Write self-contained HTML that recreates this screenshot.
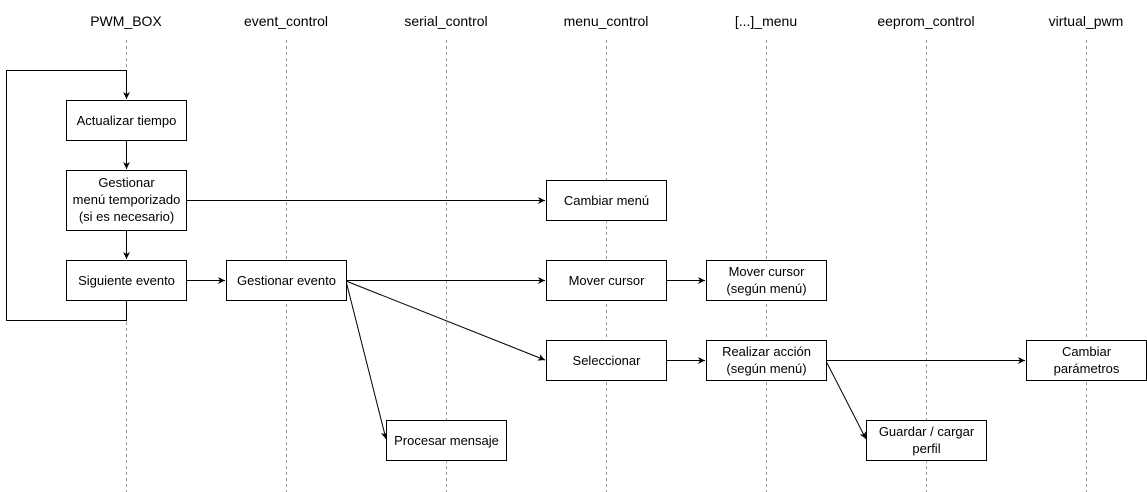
<!DOCTYPE html>
<html><head><meta charset="utf-8"><style>
html,body{margin:0;padding:0;background:#fff;}
svg{display:block;font-family:"Liberation Sans",sans-serif;}
</style></head><body>
<svg width="1147" height="492" viewBox="0 0 1147 492" xmlns="http://www.w3.org/2000/svg">
<defs><marker id="a" markerWidth="8" markerHeight="8" refX="7" refY="4" orient="auto" markerUnits="userSpaceOnUse"><path d="M0,0.5 L7,4 L0,7.5 L2,4 Z" fill="#000"/></marker></defs>
<g font-size="14" text-anchor="middle" fill="#000">
<text x="126" y="26">PWM_BOX</text><text x="286" y="26">event_control</text><text x="446" y="26">serial_control</text><text x="606" y="26">menu_control</text><text x="766" y="26">[...]_menu</text><text x="926" y="26">eeprom_control</text><text x="1086" y="26">virtual_pwm</text>
</g>
<g stroke="#999" stroke-dasharray="3,3" stroke-width="1">
<line x1="126.5" y1="40" x2="126.5" y2="492"/><line x1="286.5" y1="40" x2="286.5" y2="492"/><line x1="446.5" y1="40" x2="446.5" y2="492"/><line x1="606.5" y1="40" x2="606.5" y2="492"/><line x1="766.5" y1="40" x2="766.5" y2="492"/><line x1="926.5" y1="40" x2="926.5" y2="492"/><line x1="1086.5" y1="40" x2="1086.5" y2="492"/>
</g>
<g fill="none" stroke="#000" stroke-width="1">
<path d="M126.5,300 V320.5 H6.5 V70.5 H126.5 V99" marker-end="url(#a)"/>
<path d="M126.5,140 V169" marker-end="url(#a)"/>
<path d="M126.5,230 V259" marker-end="url(#a)"/>
<path d="M186,200.5 H545" marker-end="url(#a)"/>
<path d="M186,280.5 H225" marker-end="url(#a)"/>
<path d="M346,280.5 H545" marker-end="url(#a)"/>
<path d="M346,281 L545,360" marker-end="url(#a)"/>
<path d="M346,281 L386,439" marker-end="url(#a)"/>
<path d="M666,280.5 H705" marker-end="url(#a)"/>
<path d="M666,360.5 H705" marker-end="url(#a)"/>
<path d="M826,360.5 H1025" marker-end="url(#a)"/>
<path d="M826,361 L866,439" marker-end="url(#a)"/>
</g>
<g fill="#fff" stroke="#000" stroke-width="1">
<rect x="66.5" y="100.5" width="120" height="40"/>
<rect x="66.5" y="170.5" width="120" height="60"/>
<rect x="66.5" y="260.5" width="120" height="40"/>
<rect x="226.5" y="260.5" width="120" height="40"/>
<rect x="546.5" y="180.5" width="120" height="40"/>
<rect x="546.5" y="260.5" width="120" height="40"/>
<rect x="706.5" y="260.5" width="120" height="40"/>
<rect x="546.5" y="340.5" width="120" height="40"/>
<rect x="706.5" y="340.5" width="120" height="40"/>
<rect x="1026.5" y="340.5" width="120" height="40"/>
<rect x="386.5" y="420.5" width="120" height="40"/>
<rect x="866.5" y="420.5" width="120" height="40"/>
</g>
<g font-size="13" text-anchor="middle" fill="#000">
<text x="126.5" y="125">Actualizar tiempo</text>
<text x="126.5" y="187">Gestionar</text><text x="126.5" y="204">menú temporizado</text><text x="126.5" y="221">(si es necesario)</text>
<text x="126.5" y="285">Siguiente evento</text>
<text x="286.5" y="285">Gestionar evento</text>
<text x="606.5" y="205">Cambiar menú</text>
<text x="606.5" y="285">Mover cursor</text>
<text x="766.5" y="276">Mover cursor</text><text x="766.5" y="293">(según menú)</text>
<text x="606.5" y="365">Seleccionar</text>
<text x="766.5" y="356">Realizar acción</text><text x="766.5" y="373">(según menú)</text>
<text x="1086.5" y="356">Cambiar</text><text x="1086.5" y="373">parámetros</text>
<text x="446.5" y="445">Procesar mensaje</text>
<text x="926.5" y="436">Guardar / cargar</text><text x="926.5" y="453">perfil</text>
</g>
</svg>
</body></html>
